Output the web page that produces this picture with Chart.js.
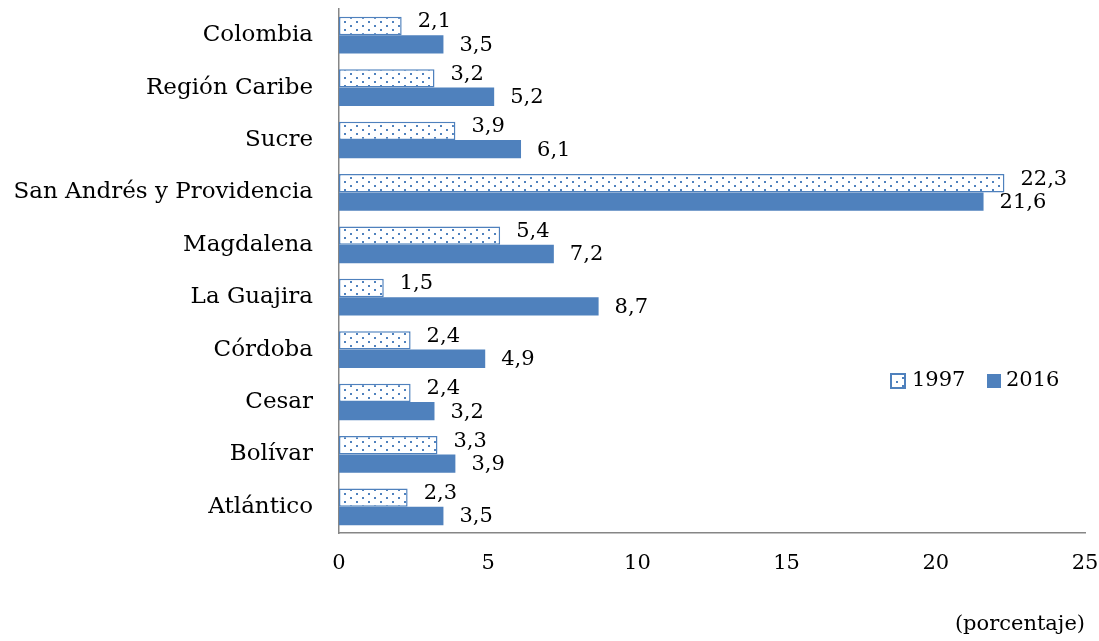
<!DOCTYPE html>
<html>
<head>
<meta charset="utf-8">
<script src="https://cdn.jsdelivr.net/npm/chart.js@4"></script>
<style>
  html, body { margin: 0; padding: 0; background: #fff; }
  #wrap { width: 1099px; height: 641px; position: relative; }
</style>
</head>
<body>
<div id="wrap"><canvas id="chart"></canvas></div>
<script>
const categories = ['Colombia', 'Región Caribe', 'Sucre', 'San Andrés y Providencia', 'Magdalena',
    'La Guajira', 'Córdoba', 'Cesar', 'Bolívar', 'Atlántico']
const values1997 = [2.1, 3.2, 3.9, 22.3, 5.4, 1.5, 2.4, 2.4, 3.3, 2.3]
const values2016 = [3.5, 5.2, 6.1, 21.6, 7.2, 8.7, 4.9, 3.2, 3.9, 3.5]
const seriesNames = ['1997', '2016']
const xTicks = [0, 5, 10, 15, 20, 25]

const FONT = "'DejaVu Serif', serif"
const BLUE = '#4f81bd'

// dotted fill for the 1997 bars
function dotPattern() {
    const c = document.createElement('canvas')
    c.width = 12; c.height = 8
    const g = c.getContext('2d')
    g.fillStyle = '#fff'
    g.fillRect(0, 0, 12, 8)
    g.fillStyle = BLUE
    g.fillRect(2, 1, 2, 2)
    g.fillRect(8, 5, 2, 2)
    return g.createPattern(c, 'repeat')
}
const dots = dotPattern()

const fmt = v => v.toFixed(1).replace('.', ',')

const labelPlugin = {
    id: 'barLabels',
    afterDatasetsDraw(chart) {
        const ctx = chart.ctx
        ctx.save()
        ctx.font = '21px ' + FONT
        ctx.fillStyle = '#000'
        ctx.textBaseline = 'middle'
        ctx.textAlign = 'left'
        chart.data.datasets.forEach((ds, i) => {
            chart.getDatasetMeta(i).data.forEach((bar, j) => {
                const dy = i === 0 ? -4 : 1
                ctx.fillText(fmt(ds.data[j]), bar.x + 16, bar.y + dy)
            })
        })
        // legend
        const lx = 891, ly = 381
        ctx.fillStyle = dots
        ctx.fillRect(lx, ly - 7, 14, 14)
        ctx.strokeStyle = BLUE
        ctx.lineWidth = 2
        ctx.strokeRect(lx, ly - 7, 14, 14)
        ctx.fillStyle = '#000'
        ctx.fillText(seriesNames[0], lx + 21, ly)
        ctx.fillStyle = BLUE
        ctx.fillRect(987, ly - 7, 14, 14)
        ctx.fillStyle = '#000'
        ctx.fillText(seriesNames[1], 1006, ly)
        ctx.restore()
    }
}

new Chart(document.getElementById('chart'), {
    type: 'bar',
    data: {
        labels: categories,
        datasets: [{
            label: seriesNames[0],
            data: values1997,
            backgroundColor: dots,
            borderColor: BLUE,
            borderWidth: 1.5,
            borderSkipped: false
        }, {
            label: seriesNames[1],
            data: values2016,
            backgroundColor: BLUE,
            borderWidth: 0
        }]
    },
    options: {
        indexAxis: 'y',
        responsive: true,
        maintainAspectRatio: false,
        animation: false,
        categoryPercentage: 0.7,
        barPercentage: 1,
        layout: { padding: { top: 9, right: 14, left: 0, bottom: 0 } },
        plugins: {
            legend: { display: false },
            tooltip: { enabled: false }
        },
        scales: {
            x: {
                min: 0,
                max: 25,
                afterBuildTicks: axis => { axis.ticks = xTicks.map(v => ({ value: v })) },
                afterFit: axis => {
                    axis.height = 108
                    axis.paddingLeft = 0
                    axis.paddingRight = 0
                },
                grid: { display: false, drawTicks: false },
                border: { color: '#868686', width: 1.5 },
                ticks: { color: '#000', font: { family: FONT, size: 21 }, padding: 18 },
                title: {
                    display: true,
                    text: '(porcentaje)',
                    align: 'end',
                    color: '#000',
                    font: { family: FONT, size: 21 },
                    padding: { top: 26, bottom: 4 }
                }
            },
            y: {
                afterFit: axis => {
                    axis.width = 339
                    axis.paddingTop = 0
                    axis.paddingBottom = 0
                },
                grid: { display: false, drawTicks: false },
                border: { color: '#868686', width: 1.5 },
                ticks: { color: '#000', font: { family: FONT, size: 23 }, padding: 26 }
            }
        }
    },
    plugins: [labelPlugin]
});
</script>
</body>
</html>
